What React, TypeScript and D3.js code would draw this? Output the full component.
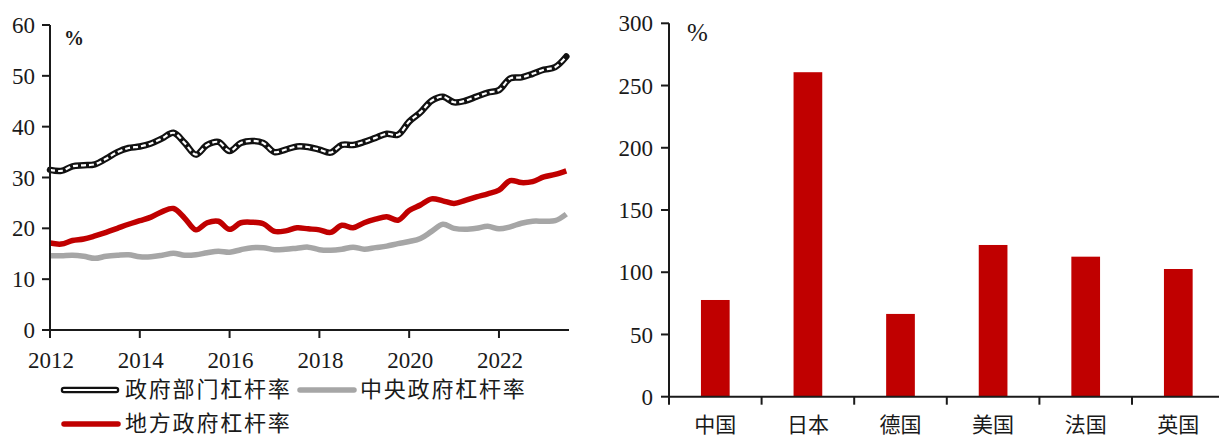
import React from "react";
import * as d3 from "d3";

// ---------- data ----------
const quarterStart = 2012; // first quarter (2012Q1), quarterly data
const govSector = [
  31.5, 31.3, 32.2, 32.4, 32.6, 33.7, 35.0, 35.8, 36.1, 36.7, 37.7, 38.8,
  36.8, 34.5, 36.4, 37.0, 35.2, 36.8, 37.2, 36.8, 35.0, 35.5, 36.1, 36.0,
  35.5, 34.9, 36.4, 36.4, 37.0, 37.8, 38.6, 38.4, 41.0, 42.8, 45.1, 45.9,
  44.8, 45.1, 45.9, 46.7, 47.2, 49.5, 49.7, 50.4, 51.2, 51.7, 53.8,
];
const centralGov = [
  14.6, 14.6, 14.7, 14.5, 14.1, 14.5, 14.7, 14.8, 14.4, 14.4, 14.7, 15.1,
  14.7, 14.8, 15.2, 15.5, 15.3, 15.8, 16.2, 16.2, 15.8, 15.9, 16.1, 16.3,
  15.8, 15.7, 15.9, 16.3, 15.9, 16.2, 16.5, 17.0, 17.4, 18.0, 19.4, 20.8,
  20.0, 19.8, 20.0, 20.4, 19.9, 20.3, 21.0, 21.4, 21.4, 21.5, 22.8,
];
const localGov = [
  17.1, 16.9, 17.6, 17.9, 18.5, 19.2, 20.0, 20.8, 21.5, 22.2, 23.3, 23.9,
  22.0, 19.7, 21.1, 21.4, 19.8, 21.1, 21.2, 20.9, 19.4, 19.5, 20.1, 19.9,
  19.7, 19.2, 20.6, 20.1, 21.1, 21.8, 22.3, 21.6, 23.5, 24.6, 25.8, 25.4,
  24.9, 25.5, 26.2, 26.8, 27.5, 29.4, 29.0, 29.2, 30.1, 30.6, 31.3,
];
const yearTicks = [2012, 2014, 2016, 2018, 2020, 2022];
const leftYTicks = [0, 10, 20, 30, 40, 50, 60];
const legendLabels = ["政府部门杠杆率", "中央政府杠杆率", "地方政府杠杆率"];

const countries = ["中国", "日本", "德国", "美国", "法国", "英国"];
const countryValues = [77.7, 260.7, 66.5, 121.9, 112.5, 102.6];
const rightYTicks = [0, 50, 100, 150, 200, 250, 300];

// ---------- styles ----------
const RED = "#C00000";
const GRAY = "#A6A6A6";
const INK = "#1a1a1a";
const SERIF = "'Liberation Serif', 'Times New Roman', serif";
const CJK = "'Noto Sans CJK SC', sans-serif";

export default function App() {
  // left chart scales
  const xL = d3.scaleLinear().domain([2012, 2023.56]).range([50, 569]);
  const yL = d3.scaleLinear().domain([0, 60]).range([330, 25]);
  const qx = (i: number) => xL(quarterStart + i * 0.25);
  const line = d3
    .line<number>()
    .x((_, i) => qx(i))
    .y((d) => yL(d))
    .curve(d3.curveCatmullRom.alpha(0.5));

  // right chart scales
  const xR = d3.scaleBand<string>().domain(countries).range([669, 669 + 6 * 92.6]).padding(0);
  const yR = d3.scaleLinear().domain([0, 300]).range([396.7, 23.3]);
  const barW = xR.bandwidth() * 0.31;
  const bandEdges = countries.map((c) => xR(c) as number);

  const legendFont = 22;
  const legendSpacing = 1.8;

  return (
    <svg width={1219} height={437} style={{ position: "absolute", left: 0, top: 0, background: "#fff" }}>
      <rect x={0} y={0} width={1219} height={437} fill="#fff" />
      {/* ===== LEFT CHART ===== */}
      <g>
        {/* lines */}
        <path d={line(centralGov) || ""} fill="none" stroke={GRAY} strokeWidth={5.5} strokeLinejoin="round" />
        <path d={line(localGov) || ""} fill="none" stroke={RED} strokeWidth={5.5} strokeLinejoin="round" />
        <path d={line(govSector) || ""} fill="none" stroke="#111" strokeWidth={6.5} strokeLinejoin="round" strokeLinecap="round" />
        <path d={line(govSector) || ""} fill="none" stroke="#fff" strokeWidth={2.2} strokeDasharray="5 3" strokeLinejoin="round" />

        {/* axes */}
        <line x1={xL(2012)} x2={xL(2012)} y1={yL(60)} y2={yL(0)} stroke={INK} strokeWidth={2} />
        <line x1={xL(2012)} x2={xL.range()[1]} y1={yL(0)} y2={yL(0)} stroke={INK} strokeWidth={2} />
        {leftYTicks.map((t) => (
          <g key={"ly" + t}>
            <line x1={xL(2012) - 8} x2={xL(2012)} y1={yL(t)} y2={yL(t)} stroke={INK} strokeWidth={2} />
            <text x={35} y={yL(t)} dy="0.35em" textAnchor="end" fontFamily={SERIF} fontSize={23} fill={INK}>
              {t}
            </text>
          </g>
        ))}
        {yearTicks.map((t) => (
          <g key={"lx" + t}>
            <line x1={xL(t)} x2={xL(t)} y1={yL(0)} y2={yL(0) + 8} stroke={INK} strokeWidth={2} />
            <text x={xL(t) + 1} y={368} textAnchor="middle" fontFamily={SERIF} fontSize={23} fill={INK}>
              {t}
            </text>
          </g>
        ))}
        <text x={64} y={45} fontFamily={SERIF} fontSize={20} fontWeight="bold" fill={INK}>
          %
        </text>

        {/* legend */}
        <line x1={64} x2={116} y1={390} y2={390} stroke="#111" strokeWidth={6.5} strokeLinecap="round" />
        <line x1={64} x2={116} y1={390} y2={390} stroke="#fff" strokeWidth={2.2} strokeLinecap="round" />
        <text x={125} y={397} fontFamily={CJK} fontSize={legendFont} letterSpacing={legendSpacing} fill={INK}>
          {legendLabels[0]}
        </text>
        <line x1={300} x2={354} y1={390} y2={390} stroke={GRAY} strokeWidth={5.5} strokeLinecap="round" />
        <text x={360} y={397} fontFamily={CJK} fontSize={legendFont} letterSpacing={legendSpacing} fill={INK}>
          {legendLabels[1]}
        </text>
        <line x1={64} x2={118} y1={424} y2={424} stroke={RED} strokeWidth={5.5} strokeLinecap="round" />
        <text x={125} y={431} fontFamily={CJK} fontSize={legendFont} letterSpacing={legendSpacing} fill={INK}>
          {legendLabels[2]}
        </text>
      </g>

      {/* ===== RIGHT CHART ===== */}
      <g>
        {countries.map((c, i) => {
          const cx = (xR(c) as number) + xR.bandwidth() / 2;
          return (
            <rect
              key={c}
              x={cx - barW / 2}
              y={yR(countryValues[i])}
              width={barW}
              height={yR(0) - yR(countryValues[i])}
              fill={RED}
            />
          );
        })}
        <line x1={669} x2={669} y1={yR(300)} y2={yR(0)} stroke={INK} strokeWidth={2} />
        <line x1={669} x2={xR.range()[1]} y1={yR(0)} y2={yR(0)} stroke={INK} strokeWidth={2} />
        {rightYTicks.map((t) => (
          <g key={"ry" + t}>
            <line x1={661} x2={669} y1={yR(t)} y2={yR(t)} stroke={INK} strokeWidth={2} />
            <text x={653} y={yR(t)} dy="0.35em" textAnchor="end" fontFamily={SERIF} fontSize={23} fill={INK}>
              {t}
            </text>
          </g>
        ))}
        {bandEdges.map((bx, i) => (
          <line key={"rt" + i} x1={bx} x2={bx} y1={yR(0)} y2={yR(0) + 8} stroke={INK} strokeWidth={2} />
        ))}
        {countries.map((c) => (
          <text
            key={"rl" + c}
            x={(xR(c) as number) + xR.bandwidth() / 2}
            y={432}
            textAnchor="middle"
            fontFamily={CJK}
            fontSize={21}
            fill={INK}
          >
            {c}
          </text>
        ))}
        <text x={687} y={41} fontFamily={SERIF} fontSize={25} fill={INK}>
          %
        </text>
      </g>
    </svg>
  );
}
